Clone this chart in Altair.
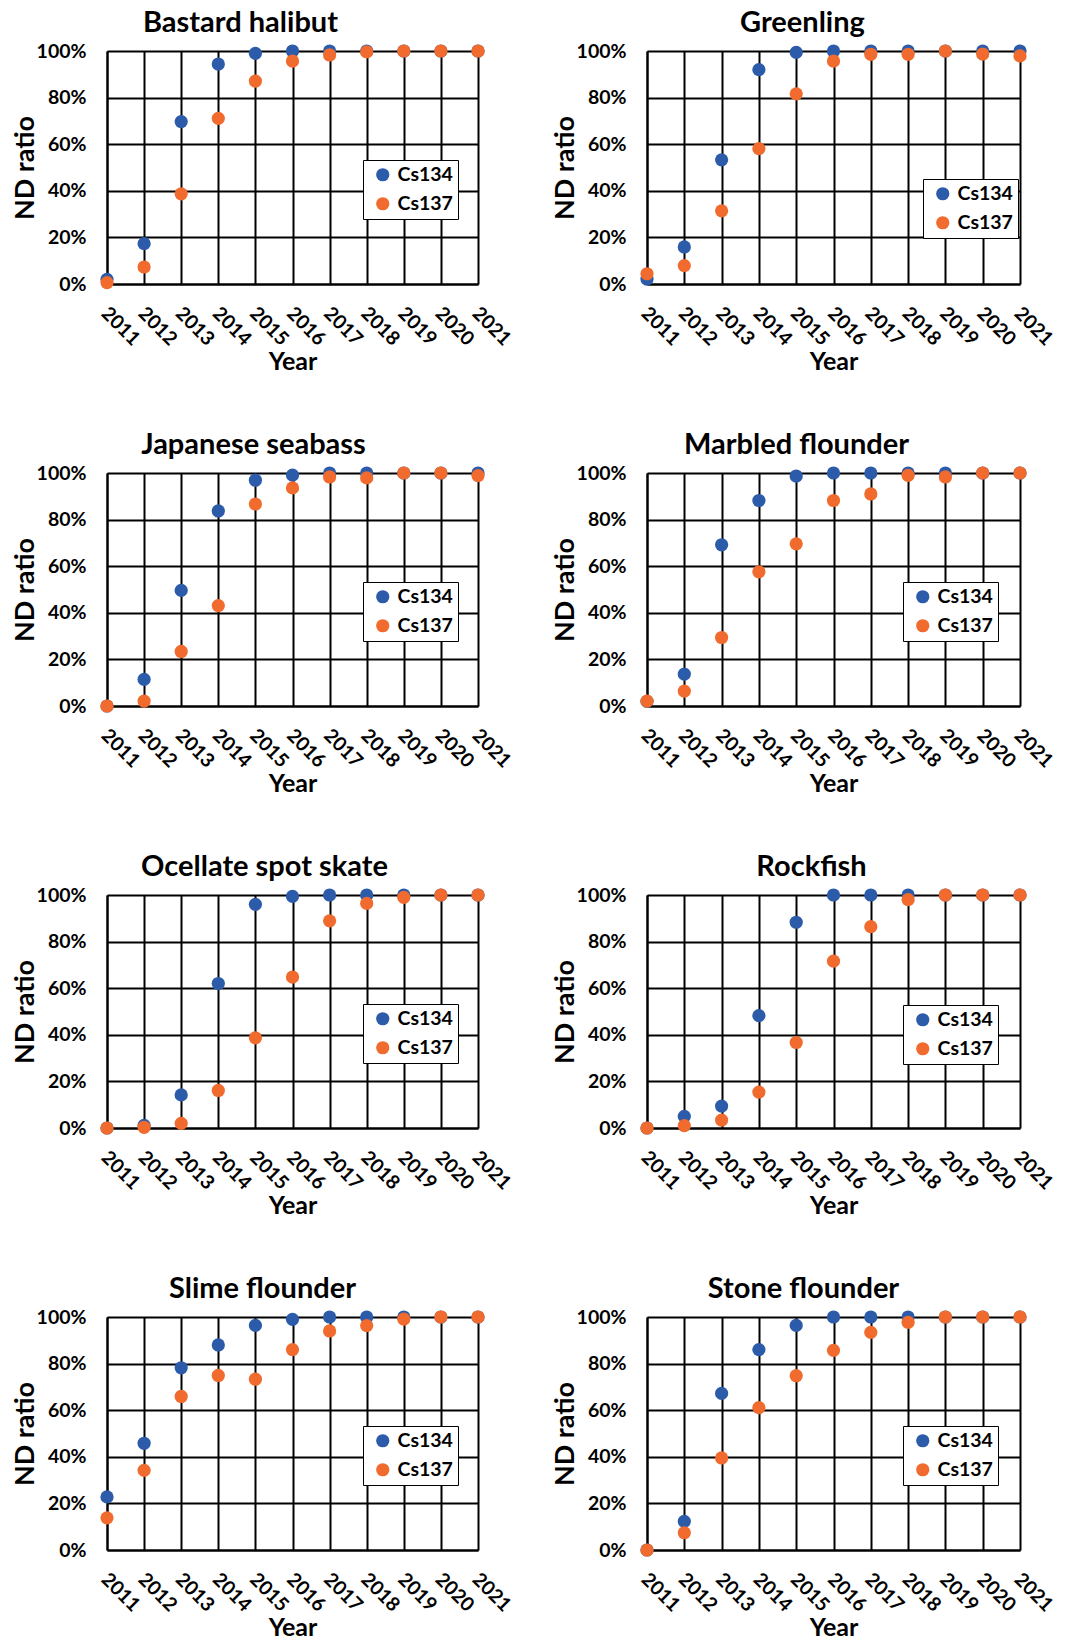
import altair as alt
import pandas as pd

years = ["2011", "2012", "2013", "2014", "2015", "2016", "2017", "2018", "2019", "2020", "2021"]
isotopes = ["Cs134", "Cs137"]

bastard_halibut_cs134 = [0.02, 0.173, 0.697, 0.944, 0.99, 1.0, 1.0, 1.0, 1.0, 1.0, 1.0]
bastard_halibut_cs137 = [0.006, 0.073, 0.387, 0.711, 0.871, 0.957, 0.983, 0.996, 1.0, 1.0, 1.0]

greenling_cs134 = [0.021, 0.159, 0.533, 0.92, 0.994, 1.0, 1.0, 1.0, 1.0, 1.0, 1.0]
greenling_cs137 = [0.044, 0.079, 0.314, 0.581, 0.816, 0.957, 0.986, 0.986, 1.0, 0.987, 0.979]

japanese_seabass_cs134 = [0.0, 0.114, 0.496, 0.837, 0.969, 0.991, 1.0, 1.0, 1.0, 1.0, 1.0]
japanese_seabass_cs137 = [0.0, 0.021, 0.234, 0.431, 0.867, 0.936, 0.983, 0.979, 1.0, 1.0, 0.989]

marbled_flounder_cs134 = [0.02, 0.137, 0.692, 0.882, 0.987, 1.0, 1.0, 1.0, 1.0, 1.0, 1.0]
marbled_flounder_cs137 = [0.021, 0.064, 0.294, 0.576, 0.696, 0.882, 0.91, 0.99, 0.983, 1.0, 1.0]

ocellate_skate_cs134 = [0.0, 0.011, 0.142, 0.62, 0.96, 0.994, 1.0, 1.0, 1.0, 1.0, 1.0]
ocellate_skate_cs137 = [0.0, 0.003, 0.02, 0.161, 0.387, 0.648, 0.889, 0.964, 0.99, 1.0, 1.0]

rockfish_cs134 = [0.0, 0.05, 0.094, 0.482, 0.883, 1.0, 1.0, 1.0, 1.0, 1.0, 1.0]
rockfish_cs137 = [0.0, 0.01, 0.034, 0.154, 0.367, 0.716, 0.864, 0.98, 1.0, 1.0, 1.0]

slime_flounder_cs134 = [0.228, 0.458, 0.782, 0.88, 0.964, 0.99, 1.0, 1.0, 1.0, 1.0, 1.0]
slime_flounder_cs137 = [0.138, 0.342, 0.659, 0.749, 0.733, 0.86, 0.94, 0.963, 0.991, 1.0, 1.0]

stone_flounder_cs134 = [0.0, 0.123, 0.672, 0.86, 0.964, 1.0, 1.0, 1.0, 1.0, 1.0, 1.0]
stone_flounder_cs137 = [0.0, 0.074, 0.395, 0.611, 0.748, 0.857, 0.934, 0.977, 1.0, 1.0, 1.0]

BLUE = "#2C5BAA"
ORANGE = "#F06B2D"
FONT = "Lato"
PLOT_H = 233


def panel(name, a, b, width, lx, ly, dx):
    df = pd.DataFrame({
        "Year": years + years,
        "ratio": a + b,
        "Isotope": [isotopes[0]] * len(years) + [isotopes[1]] * len(years),
    })
    return alt.Chart(df).mark_circle(size=175, opacity=1).encode(
        x=alt.X("Year:O", scale=alt.Scale(type="point", padding=0),
                axis=alt.Axis(title="Year", labelAngle=45, labelAlign="left",
                              labelBaseline="middle", labelPadding=26, labelOffset=-3,
                              ticks=False, tickSize=0, grid=True, gridColor="black",
                              gridWidth=2, gridOpacity=1, domainColor="black",
                              domainWidth=2, labelFont=FONT, labelFontSize=19.5,
                              labelFontWeight="bold", labelColor="black",
                              labelOverlap=False,
                              titleFont=FONT, titleFontSize=25, titleFontWeight="bold",
                              titleColor="black", titleX=width / 2, titleY=85,
                              titleBaseline="alphabetic", titleAlign="center")),
        y=alt.Y("ratio:Q", scale=alt.Scale(domain=[0, 1]),
                axis=alt.Axis(title="ND ratio", format=".0%",
                              values=[0, 0.2, 0.4, 0.6, 0.8, 1.0],
                              ticks=False, tickSize=0, labelPadding=21,
                              grid=True, gridColor="black", gridWidth=2, gridOpacity=1,
                              domainColor="black", domainWidth=2,
                              labelFont=FONT, labelFontSize=19.5, labelFontWeight="bold",
                              labelColor="black",
                              titleFont=FONT, titleFontSize=27, titleFontWeight="bold",
                              titleColor="black", titleAngle=270, titleX=-74,
                              titleY=PLOT_H / 2, titleBaseline="alphabetic",
                              titleAlign="center")),
        color=alt.Color("Isotope:N",
                        scale=alt.Scale(domain=isotopes, range=[BLUE, ORANGE]),
                        legend=alt.Legend(title=None, orient="none", legendX=lx, legendY=ly,
                                          labelFont=FONT, labelFontSize=19.5,
                                          labelFontWeight="bold", labelColor="black",
                                          symbolType="circle", symbolSize=175,
                                          symbolStrokeWidth=0, symbolOpacity=1,
                                          strokeColor="black", fillColor="white",
                                          padding=5, symbolOffset=5, labelOffset=5,
                                          rowPadding=8)),
    ).properties(
        width=width, height=PLOT_H,
        title=alt.TitleParams(name, font=FONT, fontSize=29, fontWeight="bold",
                              color="black", anchor="middle", frame="group",
                              dx=dx, dy=29, offset=9, baseline="alphabetic"),
    )


LW, RW = 371, 373
panels = [
    panel("Bastard halibut", bastard_halibut_cs134, bastard_halibut_cs137, LW, 256, 109, -52),
    panel("Greenling", greenling_cs134, greenling_cs137, RW, 276, 128, -31),
    panel("Japanese seabass", japanese_seabass_cs134, japanese_seabass_cs137, LW, 256, 109, -39),
    panel("Marbled flounder", marbled_flounder_cs134, marbled_flounder_cs137, RW, 256, 109, -37),
    panel("Ocellate spot skate", ocellate_skate_cs134, ocellate_skate_cs137, LW, 256, 109, -28),
    panel("Rockfish", rockfish_cs134, rockfish_cs137, RW, 256, 110, -22),
    panel("Slime flounder", slime_flounder_cs134, slime_flounder_cs137, LW, 256, 109, -30),
    panel("Stone flounder", stone_flounder_cs134, stone_flounder_cs137, RW, 256, 109, -30),
]

chart = alt.concat(*panels, columns=2, spacing={"row": 55, "column": 35}).resolve_scale(
    color="independent"
).resolve_legend(color="independent").properties(
    padding={"left": 2, "top": 0, "right": 5, "bottom": 5}
).configure_view(strokeWidth=0).configure(background="white")

chart.save("out.html", embed_options={"renderer": "svg", "actions": False})
